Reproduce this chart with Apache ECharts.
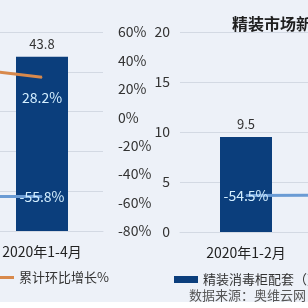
<!DOCTYPE html>
<html><head><meta charset="utf-8">
<script src="https://cdn.jsdelivr.net/npm/echarts@6/dist/echarts.min.js"></script>
<style>html,body{margin:0;padding:0;background:#fff}#c{width:308px;height:308px}</style>
</head><body><div id="c"></div>
<script>
// Left panel (partially visible)
const leftCategories = ['2019年1-4月', '2020年1-4月'];
const leftBars = [34.2, 43.8];
const leftMoM = [38.5, 28.2];      // 累计环比增长%
const leftYoY = [-55.5, -55.8];
// Right panel
const rightCategories = ['2020年1-2月', '2021年1-2月'];
const rightBars = [9.5, 12.0];
const rightYoY = [-54.5, -54.0];
const pctTicks = { min: -80, max: 60, interval: 20 };

const BAR = '#0b3e7c', ORANGE = '#d8894c', BLUE = '#6a9bd4', GRID = '#d3d9e3';
const font = '"Noto Sans CJK SC", "Noto Sans", sans-serif';
const barName = '精装消毒柜配套（万套）';

const chart = echarts.init(document.getElementById('c'));
chart.setOption({
  backgroundColor: '#edf1f8',
  textStyle: { fontFamily: font },
  animation: false,
  grid: [
    { left: -141, width: 244, top: 32, height: 199, containLabel: false, outerBoundsMode: 'none' },
    { left: 180, width: 264, top: 32, height: 200, containLabel: false, outerBoundsMode: 'none' }
  ],
  xAxis: [
    { type: 'category', gridIndex: 0, data: leftCategories,
      axisLine: { lineStyle: { color: GRID } }, axisTick: { show: false },
      axisLabel: { color: '#222', fontSize: 14, margin: 14, fontFamily: font } },
    { type: 'category', gridIndex: 1, data: rightCategories,
      axisLine: { lineStyle: { color: GRID } }, axisTick: { show: false },
      axisLabel: { color: '#222', fontSize: 14, margin: 14, fontFamily: font } }
  ],
  yAxis: [
    { type: 'value', gridIndex: 0, min: 0, max: 50, interval: 10,
      axisLabel: { show: false }, axisLine: { show: false }, axisTick: { show: false },
      splitLine: { lineStyle: { color: GRID } } },
    { type: 'value', gridIndex: 0, position: 'right', min: pctTicks.min, max: pctTicks.max, interval: pctTicks.interval,
      axisLabel: { formatter: '{value}%', color: '#333', fontSize: 14, margin: 15, fontFamily: font },
      axisLine: { show: false }, axisTick: { show: false }, splitLine: { show: false } },
    { type: 'value', gridIndex: 1, min: 0, max: 20, interval: 5,
      axisLabel: { color: '#333', fontSize: 14, margin: 10, fontFamily: font },
      axisLine: { show: false }, axisTick: { show: false },
      splitLine: { lineStyle: { color: GRID } } },
    { type: 'value', gridIndex: 1, position: 'right', min: pctTicks.min, max: pctTicks.max, interval: pctTicks.interval,
      axisLabel: { formatter: '{value}%', color: '#333', fontSize: 14 },
      axisLine: { show: false }, axisTick: { show: false }, splitLine: { show: false } }
  ],
  legend: [
    { left: -16, top: 266, itemWidth: 25, itemHeight: 3, itemGap: 10,
      data: [{ name: '累计环比增长%', icon: 'rect' }],
      textStyle: { color: '#333', fontSize: 13, fontFamily: font } },
    { left: 169, top: 268, itemWidth: 24, itemHeight: 7, itemGap: 4,
      data: [{ name: barName, icon: 'rect' }],
      textStyle: { color: '#333', fontSize: 13, fontFamily: font } }
  ],
  series: [
    { name: barName, type: 'bar', xAxisIndex: 0, yAxisIndex: 0, data: leftBars, barWidth: 52,
      itemStyle: { color: BAR },
      label: { show: true, position: 'top', distance: 6, color: '#333', fontSize: 13, fontFamily: font } },
    { name: '累计环比增长%', type: 'line', xAxisIndex: 0, yAxisIndex: 1, data: leftMoM,
      symbol: 'circle', symbolSize: 1, itemStyle: { color: ORANGE }, lineStyle: { color: ORANGE, width: 3 },
      label: { show: true, position: 'bottom', distance: 13, color: '#d4efff', fontSize: 14, fontFamily: font,
        formatter: p => p.value + '%' } },
    { name: '累计同比增长%', type: 'line', xAxisIndex: 0, yAxisIndex: 1, data: leftYoY,
      symbol: 'circle', symbolSize: 1, itemStyle: { color: BLUE }, lineStyle: { color: BLUE, width: 3 },
      label: { show: true, position: 'inside', color: '#d4efff', fontSize: 14, fontFamily: font,
        formatter: p => p.value + '%' } },
    { name: barName, type: 'bar', xAxisIndex: 1, yAxisIndex: 2, data: rightBars, barWidth: 52,
      itemStyle: { color: BAR },
      label: { show: true, position: 'top', distance: 6, color: '#333', fontSize: 13, fontFamily: font } },
    { name: '累计同比增长%(2)', type: 'line', xAxisIndex: 1, yAxisIndex: 3, data: rightYoY,
      symbol: 'circle', symbolSize: 1, itemStyle: { color: BLUE }, lineStyle: { color: BLUE, width: 3 },
      label: { show: true, position: 'inside', color: '#d4efff', fontSize: 14, fontFamily: font,
        formatter: p => p.dataIndex === 0 ? p.value + '%' : '' } }
  ],
  graphic: [
    { type: 'text', left: 232, top: 16, style: { text: '精装市场新房消毒柜配套', fill: '#1f1f1f', font: 'bold 16px ' + font } },
    { type: 'text', left: 189, top: 289, style: { text: '数据来源：奥维云网（AVC）', fill: '#555', font: '13px ' + font } },
    { type: 'rect', left: 0, top: 302, shape: { width: 308, height: 6 }, style: { fill: '#ffffff' } }
  ]
});
</script></body></html>
